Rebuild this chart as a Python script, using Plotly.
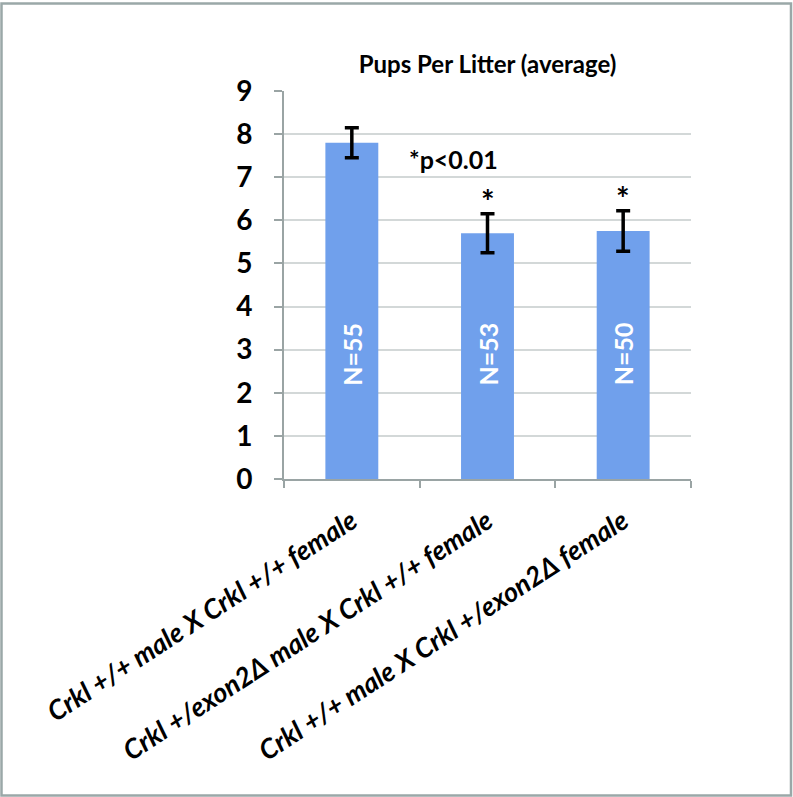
import plotly.graph_objects as go

# data
categories = [
    "Crkl +/+ male X Crkl +/+ female",
    "Crkl +/exon2Δ male X Crkl +/+ female",
    "Crkl +/+ male X Crkl +/exon2Δ female",
]
pups_avg = [7.8, 5.7, 5.75]
pups_err = [0.35, 0.45, 0.47]
n_labels = ["N=55", "N=53", "N=50"]
star_labels = ["", "*", "*"]

FONT = "Lato, 'Open Sans', sans-serif"
W, H = 793, 797
L, R, T, B = 284, 102, 91, 318


def px_to_paper(x, y):
    pw = W - L - R
    ph = H - T - B
    return (x - L) / pw, (H - B - y) / ph


fig = go.Figure()
fig.add_trace(go.Bar(
    x=categories, y=pups_avg,
    marker=dict(color="#70a0ec", line=dict(width=0)),
    width=0.39,
    error_y=dict(type="data", array=pups_err, visible=True,
                 color="black", thickness=3.5, width=7),
    showlegend=False,
))

# N labels inside bars
for c, t in zip(categories, n_labels):
    fig.add_annotation(x=c, y=2.9, text=f"<b>{t}</b>", textangle=-90,
                       showarrow=False, font=dict(family=FONT, size=25, color="white"))

# significance stars above error bars
for c, v, e, s in zip(categories, pups_avg, pups_err, star_labels):
    if s:
        fig.add_annotation(x=c, y=v + e, text=f"<b>{s}</b>", yshift=12,
                           showarrow=False, font=dict(family=FONT, size=32, color="black"))

fig.add_annotation(x=0.75, y=7.43, xref="x", yref="y", text="<b>*p<0.01</b>",
                   showarrow=False, font=dict(family=FONT, size=25, color="black"))

# outer frame
x0, y0 = px_to_paper(1.5, 795.5)
x1, y1 = px_to_paper(791, 3.5)
fig.add_shape(type="rect", xref="paper", yref="paper", x0=x0, y0=y0, x1=x1, y1=y1,
              line=dict(color="#9aa8a8", width=2.5), layer="below")

fig.update_layout(
    width=W, height=H,
    margin=dict(l=L, r=R, t=T, b=B, autoexpand=False),
    plot_bgcolor="white", paper_bgcolor="white",
    title=dict(text="<b>Pups Per Litter (average)</b>", x=0.5, xref="paper",
               y=1 - 65 / H, yanchor="middle",
               font=dict(family=FONT, size=24, color="black")),
)
fig.update_xaxes(
    tickangle=-33, tickson="boundaries", ticks="outside", ticklen=7,
    tickcolor="#9aa4a4", tickwidth=2,
    showline=True, linecolor="#9aa4a4", linewidth=2,
    showgrid=False,
    tickfont=dict(family=FONT, size=27, color="black", style="italic", weight="bold"),
    ticklabelstandoff=14,
)
fig.update_yaxes(
    range=[0, 9], dtick=1, ticks="outside", ticklen=8,
    tickcolor="#9aa4a4", tickwidth=2,
    showline=True, linecolor="#9aa4a4", linewidth=2,
    showgrid=True, gridcolor="#d3d8d8", gridwidth=2,
    zeroline=False,
    tickfont=dict(family=FONT, size=28, color="black", weight="bold"),
    ticklabelstandoff=16,
)

# drop the default page margin so the figure sits at the window's top-left
fig.write_html("out.html", config={"displayModeBar": False},
               post_script="document.body.style.margin='0';")
